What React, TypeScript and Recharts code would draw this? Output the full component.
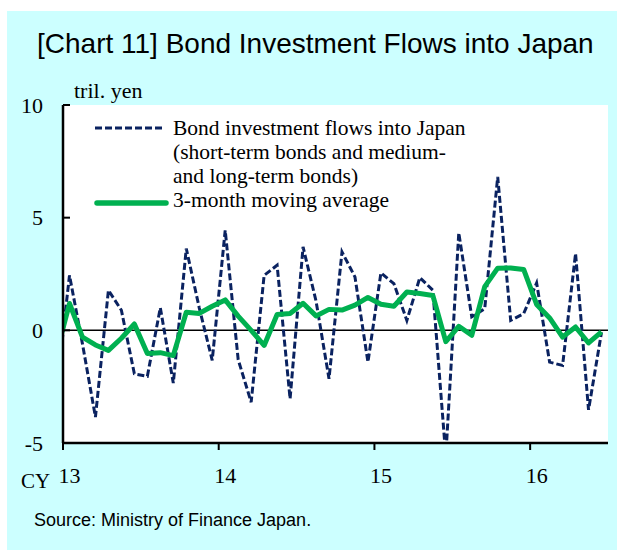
import { LineChart, Line, XAxis, YAxis, ReferenceLine } from "recharts";

// monthly, Dec 2012 .. Jun 2016 (Dec 2012 only feeds the clipped first segment)
const months = [
  "2012-12",
  "2013-01", "2013-02", "2013-03", "2013-04", "2013-05", "2013-06",
  "2013-07", "2013-08", "2013-09", "2013-10", "2013-11", "2013-12",
  "2014-01", "2014-02", "2014-03", "2014-04", "2014-05", "2014-06",
  "2014-07", "2014-08", "2014-09", "2014-10", "2014-11", "2014-12",
  "2015-01", "2015-02", "2015-03", "2015-04", "2015-05", "2015-06",
  "2015-07", "2015-08", "2015-09", "2015-10", "2015-11", "2015-12",
  "2016-01", "2016-02", "2016-03", "2016-04", "2016-05", "2016-06",
];

// tril. yen
const flows = [
  -2.7,
  2.44, -0.6, -3.85, 1.78, 0.89, -1.93, -2.04, 1.0, -2.34, 3.63, 1.0, -1.33,
  4.44, -1.3, -3.19, 2.44, 2.89, -3.04, 3.7, 1.3, -2.15, 3.48, 2.37, -1.41,
  2.55, 2.07, 0.44, 2.34, 1.78, -5.6, 4.33, 0.6, 0.96, 6.81, 0.44, 0.74,
  2.1, -1.41, -1.56, 3.41, -3.53, -0.09,
];

const movingAvg = [
  -1.0,
  1.19, -0.3, -0.65, -0.89, -0.35, 0.28, -1.03, -0.99, -1.12, 0.8, 0.75, 1.07,
  1.35, 0.63, 0.0, -0.67, 0.7, 0.75, 1.2, 0.64, 0.93, 0.9, 1.12, 1.46,
  1.16, 1.07, 1.7, 1.63, 1.55, -0.5, 0.18, -0.22, 1.94, 2.76, 2.77, 2.7,
  1.15, 0.55, -0.3, 0.15, -0.56, -0.07,
];

const yearTicks = [-0.5, 11.5, 23.5, 35.5];
const yearLabels = ["13", "14", "15", "16"];
const valueTicks = [-5, 0, 5, 10];

const data = months.map((m, i) => ({
  month: m,
  t: i - 1,
  flow: flows[i],
  avg: movingAvg[i],
}));

const W = 617;
const H = 550;
const PLOT_L = 63;
const PLOT_R = 608;
const PLOT_T = 105;
const PLOT_B = 443;
const HALF_MONTH = (PLOT_R - PLOT_L) / 42 / 2;

const SERIF = "'Liberation Serif', 'Times New Roman', serif";
const SANS = "'Liberation Sans', Arial, sans-serif";
const NAVY = "#0A2260";
const GREEN = "#00B050";

function XTick(props: any) {
  const { x, payload } = props;
  const label = yearLabels[yearTicks.indexOf(payload.value)];
  return (
    <text x={x + HALF_MONTH} y={483} textAnchor="middle" fontFamily={SERIF} fontSize={22} fill="#000">
      {label}
    </text>
  );
}

function YTick(props: any) {
  const { y, payload } = props;
  return (
    <g>
      <line x1={PLOT_L} x2={PLOT_L + 7} y1={y} y2={y} stroke="#000" strokeWidth={2} />
      <text x={43} y={y + 7.5} textAnchor="end" fontFamily={SERIF} fontSize={22} fill="#000">
        {payload.value}
      </text>
    </g>
  );
}

export default function App() {
  return (
    <div style={{ position: "absolute", left: 0, top: 0, width: W, height: H, background: "#fff" }}>
      <div style={{ position: "absolute", left: 7, top: 11, width: W - 7, height: H - 11, background: "#CCFFFF" }} />
      <div
        style={{
          position: "absolute",
          left: PLOT_L,
          top: PLOT_T,
          width: PLOT_R - PLOT_L,
          height: PLOT_B - PLOT_T,
          background: "#fff",
        }}
      />
      <div style={{ position: "absolute", left: 0, top: 0 }}>
        <LineChart
          width={W}
          height={H}
          data={data}
          margin={{ top: PLOT_T, right: W - PLOT_R, bottom: 67, left: 13 }}
        >
          <XAxis
            dataKey="t"
            type="number"
            domain={[-0.5, 41.5]}
            ticks={yearTicks}
            interval={0}
            allowDataOverflow
            height={40}
            tickSize={7}
            tickLine={{ stroke: "#000", strokeWidth: 2 }}
            axisLine={{ stroke: "#000", strokeWidth: 2.5 }}
            tick={XTick}
          />
          <YAxis
            type="number"
            domain={[-5, 10]}
            ticks={valueTicks}
            interval={0}
            allowDataOverflow
            width={50}
            tickLine={false}
            axisLine={{ stroke: "#000", strokeWidth: 2.5 }}
            tick={YTick}
          />
          <ReferenceLine y={0} stroke="#000" strokeWidth={1.5} />
          <Line
            type="linear"
            dataKey="flow"
            stroke={NAVY}
            strokeWidth={3}
            strokeDasharray="7 3"
            dot={false}
            activeDot={false}
            isAnimationActive={false}
          />
          <Line
            type="linear"
            dataKey="avg"
            stroke={GREEN}
            strokeWidth={5}
            strokeLinejoin="round"
            dot={false}
            activeDot={false}
            isAnimationActive={false}
          />
        </LineChart>
      </div>
      <svg
        width={W}
        height={H}
        style={{ position: "absolute", left: 0, top: 0, pointerEvents: "none" }}
      >
        <text x={37} y={53} fontFamily={SANS} fontSize={28} fill="#000">
          [Chart 11] Bond Investment Flows into Japan
        </text>
        <text x={74} y={98} fontFamily={SERIF} fontSize={22} fill="#000">
          tril. yen
        </text>
        <text x={21} y={488} fontFamily={SERIF} fontSize={21} fill="#000">
          CY
        </text>
        <text x={34} y={526} fontFamily={SANS} fontSize={18} fill="#000">
          Source: Ministry of Finance Japan.
        </text>
        <line x1={95} x2={165} y1={128} y2={128} stroke={NAVY} strokeWidth={3} strokeDasharray="7 3" />
        <line x1={97} x2={166} y1={203} y2={203} stroke={GREEN} strokeWidth={5.5} strokeLinecap="round" />
        <g fontFamily={SERIF} fontSize={21.5} fill="#000">
          <text x={173} y={135}>Bond investment flows into Japan</text>
          <text x={173} y={159}>(short-term bonds and medium-</text>
          <text x={173} y={183}>and long-term bonds)</text>
          <text x={173} y={207}>3-month moving average</text>
        </g>
      </svg>
    </div>
  );
}
